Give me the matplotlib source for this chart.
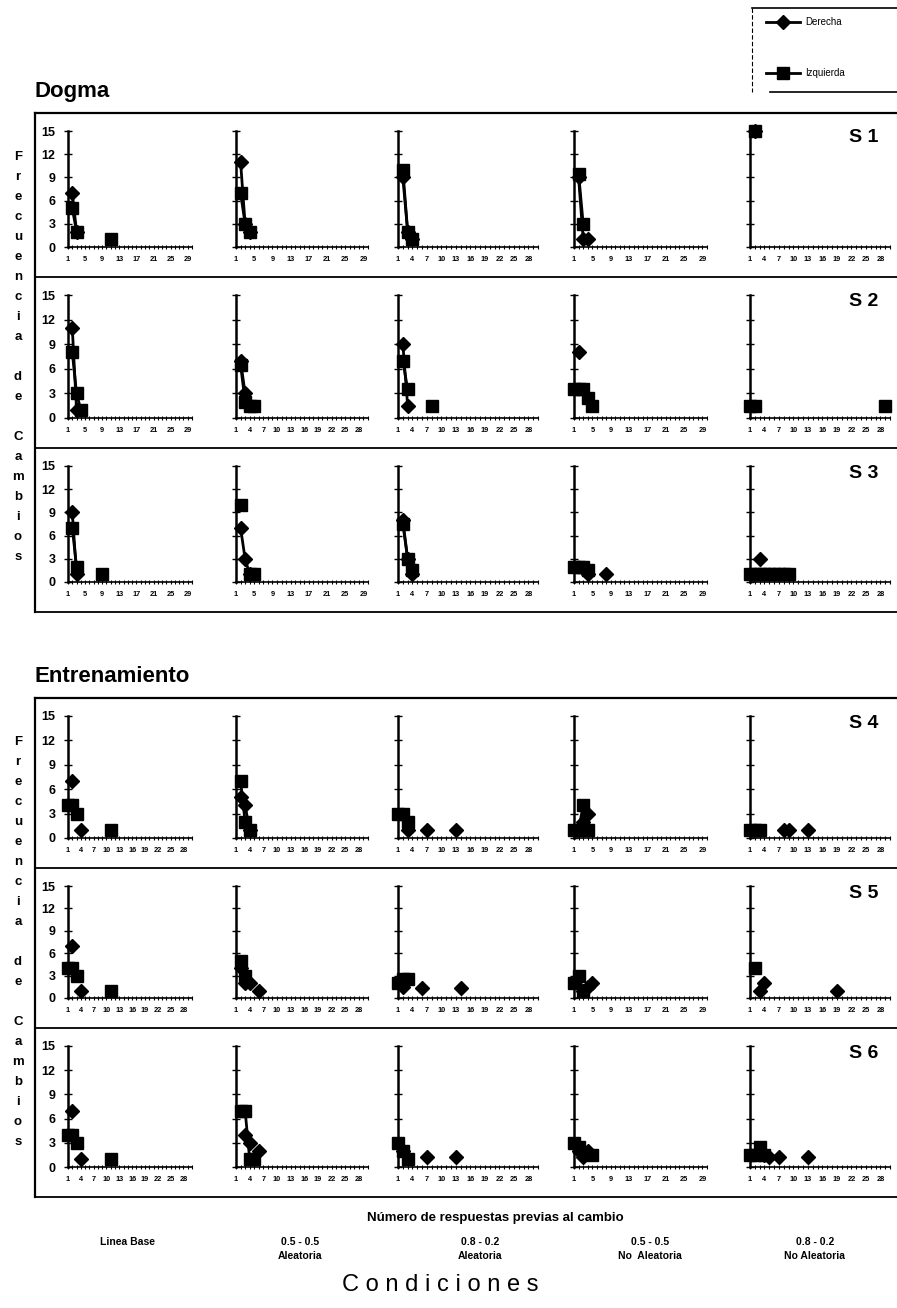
import numpy as np
import matplotlib
matplotlib.use("Agg")
import matplotlib.pyplot as plt
from matplotlib.ticker import MultipleLocator, FixedLocator

plt.rcParams['font.family'] = ['Liberation Sans', 'DejaVu Sans']

# ---------------- data ----------------
blocks = ["Dogma", "Entrenamiento"]
subjects = ["S 1", "S 2", "S 3", "S 4", "S 5", "S 6"]
conditions = ["Linea Base", "0.5 - 0.5\nAleatoria", "0.8 - 0.2\nAleatoria",
              "0.5 - 0.5\nNo  Aleatoria", "0.8 - 0.2\nNo Aleatoria"]
series_names = ["Derecha", "Izquierda"]
x_title = "Número de respuestas previas al cambio"
y_title_words = ["Frecuencia", "de", "Cambios"]
ticks_a = [1, 5, 9, 13, 17, 21, 25, 29]
ticks_b = [1, 4, 7, 10, 13, 16, 19, 22, 25, 28]
y_ticks = [0, 3, 6, 9, 12, 15]
tick_kind = [
    ["a", "a", "b", "a", "b"],
    ["a", "b", "b", "a", "b"],
    ["a", "a", "b", "a", "b"],
    ["b", "b", "b", "a", "b"],
    ["b", "b", "b", "a", "b"],
    ["b", "b", "b", "a", "b"],
]

# (x, frequency) points per condition panel
der_s1 = [[(2, 7), (3, 2)], [(2, 11), (3, 3), (4, 2)], [(2, 9), (3, 2), (4, 1)],
          [(2, 9), (3, 1), (4, 1)], [(2, 15)]]
izq_s1 = [[(2, 5), (3, 2), (11, 1)], [(2, 7), (3, 3), (4, 2)], [(2, 10), (3, 2), (4, 1)],
          [(2, 9.5), (3, 3)], [(2, 15)]]
der_s2 = [[(2, 11), (3, 1)], [(2, 7), (3, 3)], [(2, 9), (3, 1.5)],
          [(2, 8)], []]
izq_s2 = [[(2, 8), (3, 3), (4, 1)], [(2, 6.5), (3, 2), (4, 1.5), (5, 1.5)],
          [(2, 7), (3, 3.5), (8, 1.5)],
          [(1, 3.5), (2, 3.5), (3, 3.5), (4, 2.5), (5, 1.5)], [(1, 1.5), (2, 1.5), (29, 1.5)]]
der_s3 = [[(2, 9), (3, 1)], [(2, 7), (3, 3), (4, 1)], [(2, 8), (3, 3), (4, 1)],
          [(4, 1), (8, 1)], [(3, 3)]]
izq_s3 = [[(2, 7), (3, 2), (9, 1)], [(2, 10), (4, 1), (5, 1)], [(2, 7.5), (3, 3), (4, 1.5)],
          [(1, 2), (2, 2), (3, 2), (4, 1.5)],
          [(1, 1), (2, 1), (3, 1), (4, 1), (5, 1), (6, 1), (7, 1), (8, 1), (9, 1)]]
der_s4 = [[(2, 7), (4, 1)], [(2, 5), (3, 4), (4, 1)], [(3, 1), (7, 1), (13, 1)],
          [(3, 2), (4, 3)], [(8, 1), (9, 1), (13, 1)]]
izq_s4 = [[(1, 4), (2, 4), (3, 3), (11, 1)], [(2, 7), (3, 2), (4, 1)], [(1, 3), (2, 3), (3, 2)],
          [(1, 1), (2, 1), (3, 4), (4, 1)], [(1, 1), (2, 1), (3, 1)]]
der_s5 = [[(2, 7), (4, 1)], [(2, 4), (3, 2), (4, 2), (6, 1)], [(2, 1.5), (6, 1.3), (14, 1.3)],
          [(3, 1), (4, 1.5), (5, 2)], [(3, 1), (4, 2), (19, 1)]]
izq_s5 = [[(1, 4), (2, 4), (3, 3), (11, 1)], [(2, 5), (3, 3)], [(1, 2), (2, 2.5), (3, 2.5)],
          [(1, 2), (2, 3), (3, 1)], [(2, 4)]]
der_s6 = [[(2, 7), (4, 1)], [(3, 4), (4, 3), (6, 2)], [(2, 2), (7, 1.3), (13, 1.3)],
          [(2, 2), (3, 1.3), (4, 2)], [(4, 1.5), (5, 1.3), (7, 1.3), (13, 1.3)]]
izq_s6 = [[(1, 4), (2, 4), (3, 3), (11, 1)], [(2, 7), (3, 7), (4, 1), (5, 1)],
          [(1, 3), (2, 2), (3, 1)], [(1, 3), (2, 2.5), (5, 1.5)],
          [(1, 1.5), (2, 1.5), (3, 2.5), (4, 1.5)]]

derecha = [der_s1, der_s2, der_s3, der_s4, der_s5, der_s6]
izquierda = [izq_s1, izq_s2, izq_s3, izq_s4, izq_s5, izq_s6]

# ---------------- layout (pixels) ----------------
W, H = 897, 1308
fig = plt.figure(figsize=(W / 100, H / 100), dpi=100)

over = fig.add_axes([0, 0, 1, 1])
over.set_xlim(0, W)
over.set_ylim(H, 0)
over.axis("off")

col_px = [(68, 192), (236, 368), (398, 538), (574, 707), (750, 890)]
block_rows = [[(113, 277), (277, 448), (448, 612)],
              [(698, 868), (868, 1028), (1028, 1197)]]
block_title_y = [92, 677]


def to_fig(x0, x1, ytop, ybot):
    return [x0 / W, 1 - ybot / H, (x1 - x0) / W, (ybot - ytop) / H]


def series_array(points):
    y = np.full(31, np.nan)
    for px, py in points:
        y[int(px)] = py
    return y


xs = np.arange(31)

for b, block in enumerate(blocks):
    rows = block_rows[b]
    top, bottom = rows[0][0], rows[-1][1]
    over.text(35, block_title_y[b], block, fontsize=16, fontweight="bold",
              ha="left", va="center")
    over.plot([35, 35], [top, bottom], color="black", lw=1.6)
    over.plot([35, W], [top, top], color="black", lw=1.6)
    for (rt, rb) in rows:
        over.plot([35, W], [rb, rb], color="black", lw=1.3)
    pos = top + 44
    for word in y_title_words:
        for ch in word:
            over.text(18, pos, ch, fontsize=9.5, fontweight="bold",
                      ha="center", va="center")
            pos += 20
        pos += 20
    for r, (rt, rb) in enumerate(rows):
        s = b * 3 + r
        y15 = rt + 18
        y0 = rb - 30
        over.text(878, rt + 25, subjects[s], fontsize=14, fontweight="bold",
                  ha="right", va="center")
        for c, (x0, x1) in enumerate(col_px):
            ax = fig.add_axes(to_fig(x0, x1, y15, y0))
            ax.set_xlim(1, 30)
            ax.set_ylim(0, 15)
            ax.patch.set_alpha(0)
            for sp in ["top", "right"]:
                ax.spines[sp].set_visible(False)
            ax.spines["left"].set_linewidth(1.8)
            ax.spines["bottom"].set_linewidth(1.2)
            tks = ticks_a if tick_kind[s][c] == "a" else ticks_b
            ax.xaxis.set_major_locator(FixedLocator(tks))
            ax.xaxis.set_minor_locator(MultipleLocator(1))
            ax.set_xticklabels([str(t) for t in tks], fontsize=5.3,
                               fontweight="bold")
            ax.tick_params(axis="x", which="major", direction="inout",
                           length=3, width=0.8, pad=5)
            ax.tick_params(axis="x", which="minor", direction="inout",
                           length=2.5, width=0.8)
            ax.yaxis.set_major_locator(FixedLocator(y_ticks))
            ax.tick_params(axis="y", direction="inout", length=6, width=1.0,
                           pad=6)
            if c == 0:
                ax.set_yticklabels([str(t) for t in y_ticks], fontsize=9,
                                   fontweight="bold")
            else:
                ax.set_yticklabels([])
            d = series_array(derecha[s][c])
            i = series_array(izquierda[s][c])
            ax.plot(xs, i, color="black", lw=2.0, marker="s", markersize=8,
                    clip_on=False, zorder=3)
            ax.plot(xs, d, color="black", lw=2.0, marker="D", markersize=7,
                    clip_on=False, zorder=4)

# bottom texts
over.text(495, 1218, x_title, fontsize=9.5, fontweight="bold",
          ha="center", va="center")
cond_x = [128, 300, 480, 650, 815]
for cx, lab in zip(cond_x, conditions):
    over.text(cx, 1237, lab, fontsize=7.5, fontweight="bold", ha="center",
              va="top", linespacing=1.5)
over.text(440, 1285, "C o n d i c i o n e s", fontsize=17, ha="center",
          va="center")

# legend
over.plot([752, 752], [8, 92], color="black", lw=0.8, ls=(0, (4, 2)))
over.plot([752, W], [8, 8], color="black", lw=1.2)
over.plot([770, W], [92, 92], color="black", lw=1.2)
over.plot([766, 800], [22, 22], color="black", lw=2.0)
over.plot([783], [22], color="black", marker="D", markersize=7)
over.text(805, 22, series_names[0], fontsize=7, ha="left", va="center")
over.plot([766, 800], [73, 73], color="black", lw=2.0)
over.plot([783], [73], color="black", marker="s", markersize=8)
over.text(805, 73, series_names[1], fontsize=7, ha="left", va="center")

fig.savefig("out.png", dpi=100)
